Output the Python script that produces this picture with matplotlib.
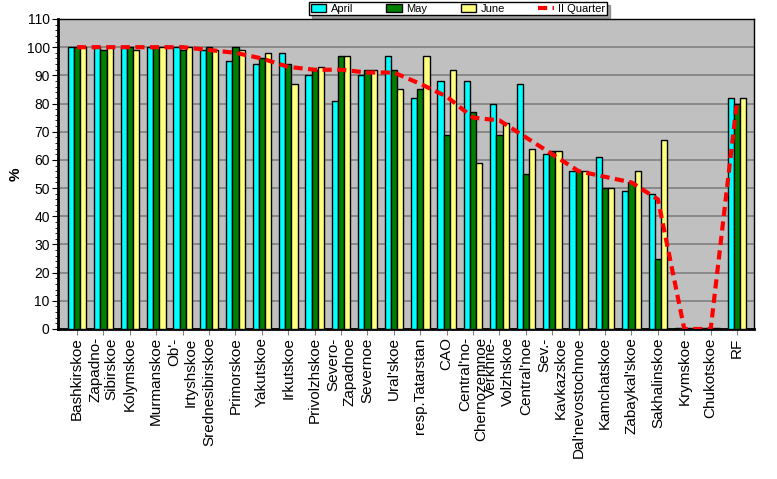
import numpy as np
import matplotlib
matplotlib.use('Agg')
import matplotlib.pyplot as plt
from matplotlib.ticker import MultipleLocator

plt.rcParams['font.family'] = ['Liberation Sans', 'DejaVu Sans']

regions = ['Bashkirskoe', 'Zapadno-\nSibirskoe', 'Kolymskoe', 'Murmanskoe', "Ob'-\nIrtyshskoe",
           'Srednesibirskoe', 'Primorskoe', 'Yakutskoe', 'Irkutskoe', 'Privolzhskoe',
           'Severo-\nZapadnoe', 'Severnoe', "Ural'skoe", 'resp.Tatarstan', 'CAO',
           "Central'no-\nChernozemnoe", 'Verkhne-\nVolzhskoe', "Central'noe", 'Sev.-\nKavkazskoe',
           "Dal'nevostochnoe", 'Kamchatskoe', "Zabaykal'skoe", 'Sakhalinskoe', 'Krymskoe',
           'Chukotskoe', 'RF']

april = [100, 100, 100, 100, 100, 99, 95, 94, 98, 90, 81, 90, 97, 82, 88, 88, 80, 87,
         62, 56, 61, 49, 48, 0.5, 0.5, 82]
may = [100, 99, 100, 100, 99, 100, 100, 96, 94, 92, 97, 92, 92, 85, 69, 77, 69, 55,
       63, 56, 50, 52, 25, 0, 0.3, 80]
june = [100, 100, 99, 100, 100, 99, 99, 98, 87, 93, 97, 92, 85, 97, 92, 59, 73, 64,
        63, 56, 50, 56, 67, 0.5, 0.5, 82]
quarter = [100, 100, 100, 100, 100, 99, 98, 96, 93, 92, 92, 91, 91, 87, 82.5, 75, 74, 68,
           62, 56, 54, 52, 46, 0, 0, 81]

fig = plt.figure(figsize=(7.77, 4.79), dpi=100)
ax = fig.add_axes([58 / 777, 150 / 479, 696 / 777, 310 / 479])
ax.set_facecolor('#C0C0C0')

x = np.arange(len(regions))
w = 0.235
ax.bar(x - w, april, w, color='#00FFFF', edgecolor='black', linewidth=1, label='April', zorder=3)
ax.bar(x, may, w, color='#008000', edgecolor='black', linewidth=1, label='May', zorder=3)
ax.bar(x + w, june, w, color='#FFFF80', edgecolor='black', linewidth=1, label='June', zorder=3)
ax.plot(x, quarter, color='#FF0000', lw=3, linestyle=(0, (2.2, 1.3)), label='II Quarter', zorder=4)

ax.set_xlim(-0.72, 25.64)
ax.set_ylim(0, 110)
ax.yaxis.set_major_locator(MultipleLocator(10))
ax.yaxis.set_minor_locator(MultipleLocator(2))
ax.grid(axis='y', color='#808080', lw=1.2, zorder=1)
ax.set_axisbelow(True)

ax.set_xticks(x)
ax.set_xticklabels(regions, rotation=90, fontsize=11, ha='center', va='top', multialignment='right')
ax.tick_params(axis='x', length=4, color='#808080', pad=2)
ax.tick_params(axis='y', which='major', length=4, labelsize=10, pad=2)
ax.tick_params(axis='y', which='minor', length=2)

for s in ['top', 'right']:
    ax.spines[s].set_linewidth(1)
for s in ['left', 'bottom']:
    ax.spines[s].set_linewidth(2)

ax.set_ylabel('%', fontsize=11, fontweight='bold', labelpad=3)

handles, labels = ax.get_legend_handles_labels()
order = [1, 2, 3, 0]
leg = fig.legend([handles[i] for i in order], [labels[i] for i in order],
                 loc='upper center', bbox_to_anchor=(458 / 777, 0.998), ncol=4, fontsize=8,
                 frameon=True, fancybox=False, shadow=True, edgecolor='black',
                 handlelength=1.4, handleheight=0.7, columnspacing=3.0, borderpad=0.15,
                 handletextpad=0.4, borderaxespad=0.1)
leg.get_frame().set_linewidth(1)

fig.savefig('out.png', dpi=100)
